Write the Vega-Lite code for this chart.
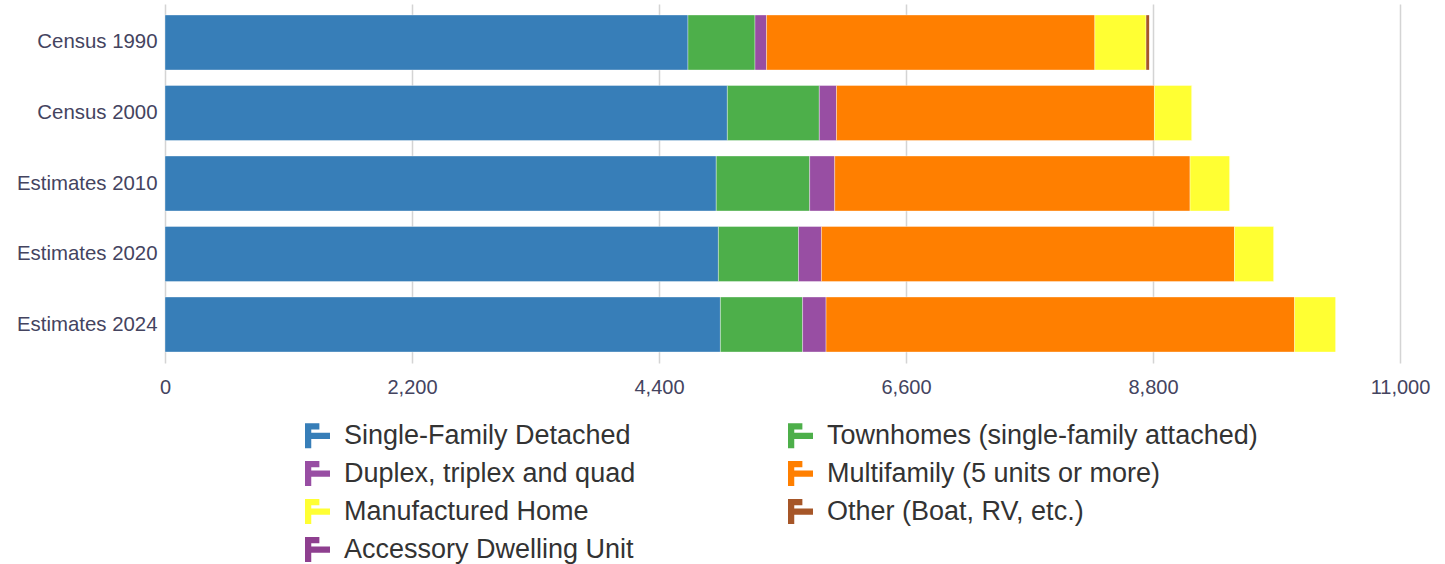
{
  "$schema": "https://vega.github.io/schema/vega-lite/v6.json",
  "width": 1235,
  "height": 359,
  "autosize": {"type": "none"},
  "padding": {"left": 165, "top": 4, "right": 45, "bottom": 201},
  "background": "#ffffff",
  "config": {"view": {"stroke": null}, "font": "Liberation Sans"},
  "data": {
    "values": [
      {"source": "Census 1990", "type": "Single-Family Detached", "units": 4658},
      {"source": "Census 1990", "type": "Townhomes (single-family attached)", "units": 597},
      {"source": "Census 1990", "type": "Duplex, triplex and quad", "units": 103},
      {"source": "Census 1990", "type": "Multifamily (5 units or more)", "units": 2924},
      {"source": "Census 1990", "type": "Manufactured Home", "units": 456},
      {"source": "Census 1990", "type": "Other (Boat, RV, etc.)", "units": 31},
      {"source": "Census 1990", "type": "Accessory Dwelling Unit", "units": 0},
      {"source": "Census 2000", "type": "Single-Family Detached", "units": 5009},
      {"source": "Census 2000", "type": "Townhomes (single-family attached)", "units": 819},
      {"source": "Census 2000", "type": "Duplex, triplex and quad", "units": 153},
      {"source": "Census 2000", "type": "Multifamily (5 units or more)", "units": 2832},
      {"source": "Census 2000", "type": "Manufactured Home", "units": 335},
      {"source": "Census 2000", "type": "Other (Boat, RV, etc.)", "units": 0},
      {"source": "Census 2000", "type": "Accessory Dwelling Unit", "units": 0},
      {"source": "Estimates 2010", "type": "Single-Family Detached", "units": 4910},
      {"source": "Estimates 2010", "type": "Townhomes (single-family attached)", "units": 832},
      {"source": "Estimates 2010", "type": "Duplex, triplex and quad", "units": 223},
      {"source": "Estimates 2010", "type": "Multifamily (5 units or more)", "units": 3165},
      {"source": "Estimates 2010", "type": "Manufactured Home", "units": 356},
      {"source": "Estimates 2010", "type": "Other (Boat, RV, etc.)", "units": 0},
      {"source": "Estimates 2010", "type": "Accessory Dwelling Unit", "units": 0},
      {"source": "Estimates 2020", "type": "Single-Family Detached", "units": 4929},
      {"source": "Estimates 2020", "type": "Townhomes (single-family attached)", "units": 714},
      {"source": "Estimates 2020", "type": "Duplex, triplex and quad", "units": 204},
      {"source": "Estimates 2020", "type": "Multifamily (5 units or more)", "units": 3679},
      {"source": "Estimates 2020", "type": "Manufactured Home", "units": 352},
      {"source": "Estimates 2020", "type": "Other (Boat, RV, etc.)", "units": 0},
      {"source": "Estimates 2020", "type": "Accessory Dwelling Unit", "units": 0},
      {"source": "Estimates 2024", "type": "Single-Family Detached", "units": 4947},
      {"source": "Estimates 2024", "type": "Townhomes (single-family attached)", "units": 732},
      {"source": "Estimates 2024", "type": "Duplex, triplex and quad", "units": 209},
      {"source": "Estimates 2024", "type": "Multifamily (5 units or more)", "units": 4173},
      {"source": "Estimates 2024", "type": "Manufactured Home", "units": 369},
      {"source": "Estimates 2024", "type": "Other (Boat, RV, etc.)", "units": 0},
      {"source": "Estimates 2024", "type": "Accessory Dwelling Unit", "units": 0}
    ]
  },
  "transform": [
    {"calculate": "indexof(['Single-Family Detached','Townhomes (single-family attached)','Duplex, triplex and quad','Multifamily (5 units or more)','Manufactured Home','Other (Boat, RV, etc.)','Accessory Dwelling Unit'], datum.type)", "as": "stackRank"}
  ],
  "mark": {"type": "bar", "stroke": "#ffffff", "strokeWidth": 1, "strokeOpacity": 0.35},
  "encoding": {
    "y": {
      "field": "source",
      "type": "nominal",
      "sort": ["Census 1990", "Census 2000", "Estimates 2010", "Estimates 2020", "Estimates 2024"],
      "title": null,
      "scale": {"paddingInner": 0.22, "paddingOuter": 0.156},
      "axis": {
        "domain": false,
        "ticks": false,
        "tickSize": 0,
        "labelPadding": 8,
        "labelFontSize": 20.4,
        "labelColor": "#44445f",
        "labelFont": "Liberation Sans",
        "grid": false
      }
    },
    "x": {
      "field": "units",
      "type": "quantitative",
      "stack": "zero",
      "title": null,
      "scale": {"domain": [0, 11000], "nice": false},
      "axis": {
        "values": [0, 2200, 4400, 6600, 8800, 11000],
        "format": ",.0f",
        "domain": false,
        "ticks": false,
        "tickSize": 0,
        "labelPadding": 14,
        "labelFontSize": 20,
        "labelColor": "#44445f",
        "labelFont": "Liberation Sans",
        "labelFlush": false,
        "grid": true,
        "gridColor": "#d4d4d4",
        "gridWidth": 1.5
      }
    },
    "order": {"field": "stackRank", "type": "quantitative", "sort": "ascending"},
    "color": {
      "field": "type",
      "type": "nominal",
      "scale": {
        "domain": [
          "Single-Family Detached",
          "Townhomes (single-family attached)",
          "Duplex, triplex and quad",
          "Multifamily (5 units or more)",
          "Manufactured Home",
          "Other (Boat, RV, etc.)",
          "Accessory Dwelling Unit"
        ],
        "range": ["#377eb8", "#4daf4a", "#984ea3", "#ff7f00", "#ffff33", "#a65628", "#8e3f8f"]
      },
      "legend": {
        "title": null,
        "orient": "none",
        "legendX": 139,
        "legendY": 418,
        "direction": "horizontal",
        "columns": 2,
        "columnPadding": 151,
        "rowPadding": 10,
        "gridAlign": "each",
        "symbolType": "M-1,-1H0.15V-0.5H-0.5V-0.25H1V0.25H-0.5V1H-1Z",
        "symbolSize": 625,
        "symbolStrokeWidth": 0,
        "symbolOpacity": 1,
        "labelOffset": 13,
        "labelFontSize": 27,
        "labelFont": "Liberation Sans",
        "labelColor": "#333333",
        "labelLimit": 600
      }
    }
  }
}
